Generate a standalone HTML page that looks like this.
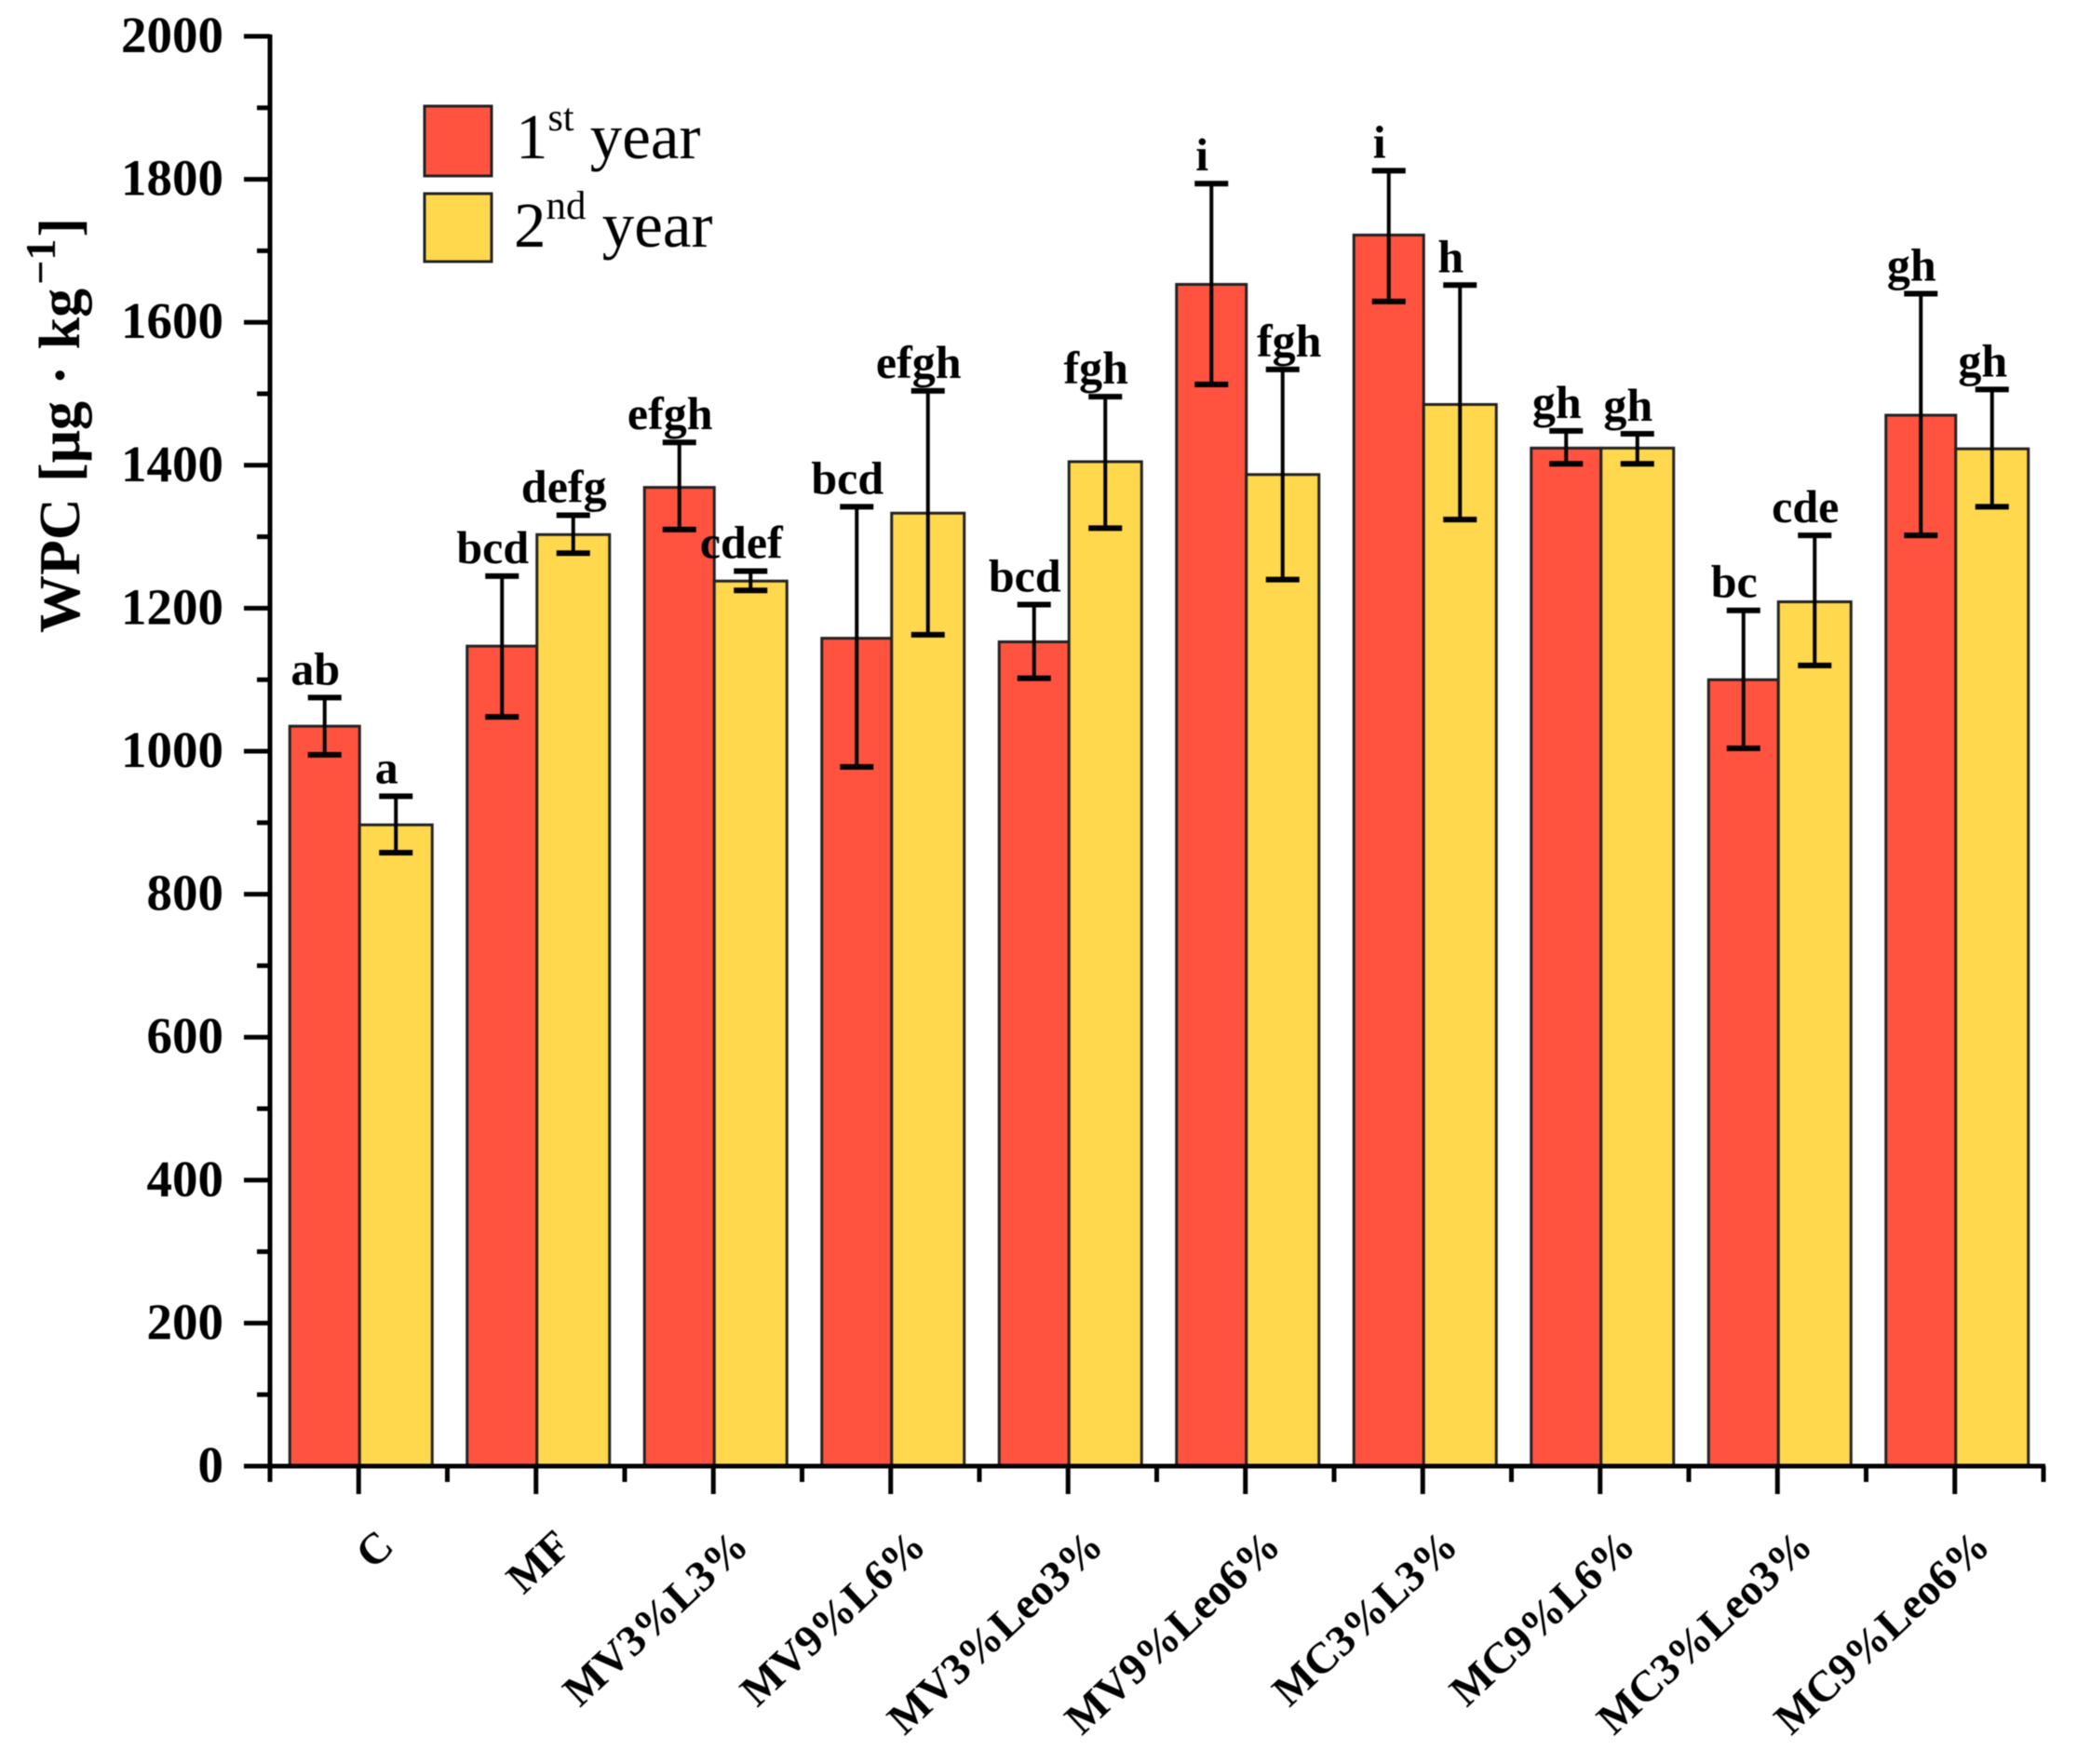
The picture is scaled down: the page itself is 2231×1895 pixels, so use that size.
<!DOCTYPE html>
<html lang="en">
<head>
<meta charset="utf-8">
<title>WPC bar chart</title>
<style>
html,body{margin:0;padding:0;background:#fff;}
body{width:2231px;height:1895px;overflow:hidden;}
svg{display:block;filter:blur(0.6px);}
text{font-family:"Liberation Serif",serif;fill:#000;}
</style>
</head>
<body>
<svg id="chart" xmlns="http://www.w3.org/2000/svg" width="2231" height="1895" viewBox="0 0 2231 1895">
  <g id="bars"></g>
  <g id="errors"></g>
  <g id="letters"></g>
  <g id="axes"></g>
  <text transform="translate(85,680) rotate(-90)" font-size="62" font-weight="bold" word-spacing="2" xml:space="preserve">WPC [μg · kg<tspan font-size="46" dy="-26" dx="4">−1</tspan><tspan dy="26" dx="2">]</tspan></text>
  <g>
    <rect x="456" y="114" width="72" height="75" fill="#FF5340" stroke="#222" stroke-width="3"/>
    <text x="554" y="170" font-size="69">1<tspan font-size="42" dy="-30">st</tspan><tspan dy="30"> year</tspan></text>
    <rect x="456" y="208" width="72" height="73" fill="#FFD84D" stroke="#222" stroke-width="3"/>
    <text x="552" y="265" font-size="69">2<tspan font-size="43" dy="-30">nd</tspan><tspan dy="30"> year</tspan></text>
  </g>
</svg>
<script>
const categories = ["C","MF","MV3%L3%","MV9%L6%","MV3%Leo3%","MV9%Leo6%","MC3%L3%","MC9%L6%","MC3%Leo3%","MC9%Leo6%"];
const year1Values = [1035,1147,1369,1158,1153,1653,1722,1424,1100,1470];
const year1Upper  = [1075,1245,1432,1342,1205,1794,1812,1448,1197,1640];
const year1Lower  = [995,1048,1310,978,1102,1513,1629,1402,1004,1302];
const year2Values = [897,1303,1238,1333,1405,1387,1485,1424,1209,1423];
const year2Upper  = [937,1330,1252,1504,1496,1534,1652,1444,1302,1506];
const year2Lower  = [858,1277,1225,1163,1312,1240,1324,1402,1120,1342];
const year1Letters = ["ab","bcd","efgh","bcd","bcd","i","i","gh","bc","gh"];
const year2Letters = ["a","defg","cdef","efgh","fgh","fgh","h","gh","cde","gh"];
const yMajorTicks = [0,200,400,600,800,1000,1200,1400,1600,1800,2000];
const yMinorTicks = [100,300,500,700,900,1100,1300,1500,1700,1900];

const NS = "http://www.w3.org/2000/svg";
const plotLeft = 290, plotRight = 2195, plotTop = 39, plotBottom = 1575, yMax = 2000;
const bandWidth = (plotRight - plotLeft) / categories.length;
const redWidth = 75, yellowWidth = 78;
function xCenter(i){ return plotLeft + bandWidth * (i + 0.5); }
function yScale(v){ return plotBottom - (v / yMax) * (plotBottom - plotTop); }
function make(tag, attrs, parent){
  const el = document.createElementNS(NS, tag);
  for (const k in attrs) el.setAttribute(k, attrs[k]);
  parent.appendChild(el);
  return el;
}
const barsG = document.getElementById("bars");
const errorsG = document.getElementById("errors");
const lettersG = document.getElementById("letters");
const axesG = document.getElementById("axes");

function drawBar(x, width, value, fill, name){
  const y = yScale(value);
  const el = make("rect", {x:x, y:y, width:width, height:plotBottom - y, fill:fill, stroke:"#222", "stroke-width":3}, barsG);
  
  
}
function drawError(cx, upper, lower, name){
  const g = make("g", {stroke:"#000"}, errorsG);
  
  
  make("line", {x1:cx, x2:cx, y1:yScale(upper), y2:yScale(lower), "stroke-width":4}, g);
  make("line", {x1:cx-18, x2:cx+18, y1:yScale(upper), y2:yScale(upper), "stroke-width":6}, g);
  make("line", {x1:cx-18, x2:cx+18, y1:yScale(lower), y2:yScale(lower), "stroke-width":6}, g);
}
function drawLetter(cx, upper, label, name){
  const el = make("text", {x:cx, y:yScale(upper)-14, "font-size":50, "font-weight":"bold", "text-anchor":"middle"}, lettersG);
  el.textContent = label;
  
  
}
categories.forEach((cat, i) => {
  const c = xCenter(i);
  drawBar(c + 1 - redWidth, redWidth, year1Values[i], "#FF5340", "bar-year1-" + i);
  drawBar(c + 1, yellowWidth, year2Values[i], "#FFD84D", "bar-year2-" + i);
});
categories.forEach((cat, i) => {
  const c = xCenter(i) + 1;
  const c1 = c - redWidth / 2, c2 = c + yellowWidth / 2;
  drawError(c1, year1Upper[i], year1Lower[i], "error-bar-year1-" + i);
  drawError(c2, year2Upper[i], year2Lower[i], "error-bar-year2-" + i);
  drawLetter(c1 - 10, year1Upper[i], year1Letters[i], "letter-year1-" + i);
  drawLetter(c2 + (i === 5 ? 7 : -10), year2Upper[i], year2Letters[i], "letter-year2-" + i);
});

// axes
const axisStyle = {stroke:"#000", "stroke-width":5};
const yAxis = make("line", Object.assign({x1:plotLeft, x2:plotLeft, y1:plotTop-2, y2:plotBottom+2}, axisStyle), axesG);


const xAxis = make("line", Object.assign({x1:plotLeft-28, x2:plotRight+2, y1:plotBottom, y2:plotBottom}, axisStyle), axesG);



yMajorTicks.forEach(v => {
  const y = yScale(v);
  const tick = make("line", Object.assign({x1:plotLeft-28, x2:plotLeft, y1:y, y2:y}, axisStyle), axesG);
  
  
  const label = make("text", {x:plotLeft-50, y:y+17, "font-size":55, "font-weight":"bold", "text-anchor":"end"}, axesG);
  label.textContent = v;
  
  
});
yMinorTicks.forEach(v => {
  const y = yScale(v);
  const tick = make("line", Object.assign({x1:plotLeft-14, x2:plotLeft, y1:y, y2:y}, axisStyle), axesG);
  
  
});
categories.forEach((cat, i) => {
  const c = xCenter(i);
  const tick = make("line", Object.assign({x1:c, x2:c, y1:plotBottom, y2:plotBottom+30}, axisStyle), axesG);
  
  
  const label = make("text", {"font-size":47, "font-weight":"bold", "text-anchor":"end", transform:"translate(" + (c + 40) + ",1664) rotate(-43)"}, axesG);
  label.textContent = cat;
  
  
});
for (let i = 0; i <= categories.length; i++) {
  const x = plotLeft + bandWidth * i;
  const tick = make("line", Object.assign({x1:x, x2:x, y1:plotBottom, y2:plotBottom+17}, axisStyle), axesG);
  
  
}
</script>
</body>
</html>
